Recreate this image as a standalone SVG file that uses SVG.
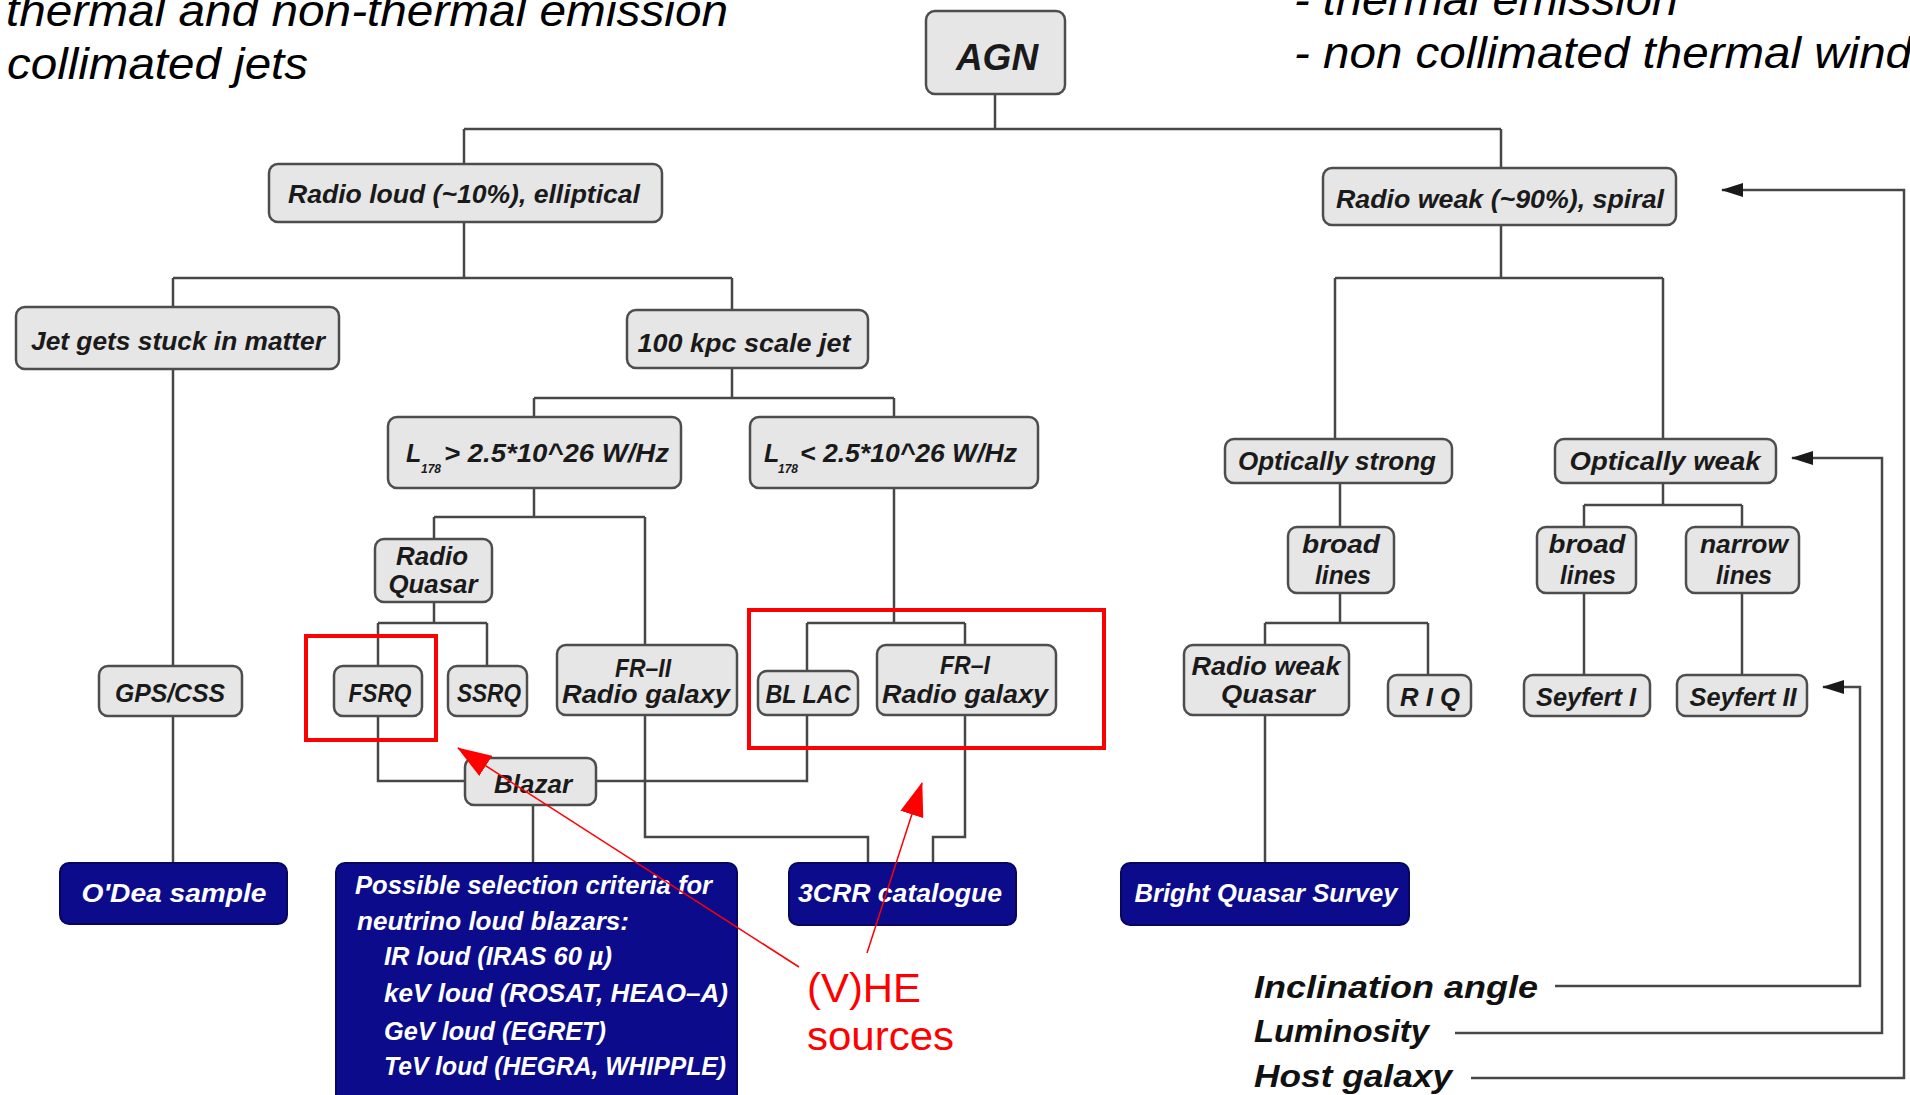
<svg xmlns="http://www.w3.org/2000/svg" width="1910" height="1095" viewBox="0 0 1910 1095">
<defs>
<style>
.n rect{fill:#e6e6e6;stroke:#4d4d4d;stroke-width:2.5}
.b rect{fill:#0b0b8c;stroke:#06065e;stroke-width:2}
.t{font-family:"Liberation Sans",Arial,sans-serif;font-style:italic;font-weight:bold;font-size:25px;fill:#1a1a1a;text-anchor:middle}
.ts{text-anchor:start}
.sub{font-size:12px}
.w{fill:#ffffff}
.h{font-family:"Liberation Sans",Arial,sans-serif;font-style:italic;font-size:44px;fill:#000}
.c{stroke:#474747;stroke-width:2.5;fill:none}
.r{stroke:#ff0000;fill:none}
.red{font-family:"Liberation Sans",Arial,sans-serif;font-size:40px;fill:#ff0000}
</style>
<marker id="ah" markerUnits="userSpaceOnUse" markerWidth="22" markerHeight="14" refX="21" refY="7" orient="auto">
<path d="M0,0 L22,7 L0,14 Z" fill="#1a1a1a"/>
</marker>
<marker id="rh" markerUnits="userSpaceOnUse" markerWidth="34" markerHeight="24" refX="33" refY="12" orient="auto">
<path d="M0,0 L34,12 L0,24 Z" fill="#ff0000"/>
</marker>
</defs>
<rect width="1910" height="1095" fill="#ffffff"/>

<g id="header-text">
<text class="h" x="6" y="26" textLength="722" lengthAdjust="spacingAndGlyphs">thermal and non-thermal emission</text>
<text class="h" x="7" y="79" textLength="301" lengthAdjust="spacingAndGlyphs">collimated jets</text>
<text class="h" x="1294" y="15" textLength="384" lengthAdjust="spacingAndGlyphs">- thermal emission</text>
<text class="h" x="1294" y="68" textLength="618" lengthAdjust="spacingAndGlyphs">- non collimated thermal wind</text>
</g>

<g id="connectors">
<path class="c" d="M995,94 V129 M464,129 H1501 M464,129 V164 M1501,129 V168"/>
<path class="c" d="M464,222 V278 M173,278 H732 M173,278 V307 M732,278 V310"/>
<path class="c" d="M173,369 V666 M173,716 V863"/>
<path class="c" d="M732,368 V398 M534,398 H894 M534,398 V417 M894,398 V417"/>
<path class="c" d="M534,488 V517 M434,517 H645 M434,517 V539 M645,517 V645"/>
<path class="c" d="M434,602 V623 M378,623 H487 M378,623 V666 M487,623 V666"/>
<path class="c" d="M378,716 V781 H807 V715"/>
<path class="c" d="M533,805 V863"/>
<path class="c" d="M645,715 V837 H868 V863"/>
<path class="c" d="M894,488 V623 M807,623 H965 M807,623 V671 M965,623 V645"/>
<path class="c" d="M965,715 V837 H933 V863"/>
<path class="c" d="M1501,225 V278 M1335,278 H1663 M1335,278 V439 M1663,278 V439"/>
<path class="c" d="M1340,483 V527 M1340,593 V623 M1265,623 H1428 M1265,623 V645 M1428,623 V675"/>
<path class="c" d="M1265,715 V863"/>
<path class="c" d="M1663,483 V505 M1584,505 H1742 M1584,505 V527 M1742,505 V527"/>
<path class="c" d="M1584,593 V675 M1742,593 V675"/>
<path class="c" marker-end="url(#ah)" d="M1555,986 H1860 V687 H1823"/>
<path class="c" marker-end="url(#ah)" d="M1455,1033 H1882 V458 H1792"/>
<path class="c" marker-end="url(#ah)" d="M1471,1078 H1904 V190 H1722"/>
</g>

<g id="agn" class="n"><rect x="926" y="11" width="139" height="83" rx="9"/><text class="t" x="997" y="70" style="font-size:37px">AGN</text></g>
<g id="radio-loud" class="n"><rect x="269" y="164" width="393" height="58" rx="9"/><text class="t" x="464" y="203" textLength="352" lengthAdjust="spacingAndGlyphs">Radio loud (~10%), elliptical</text></g>
<g id="radio-weak" class="n"><rect x="1323" y="168" width="353" height="57" rx="9"/><text class="t" x="1500" y="208" textLength="328" lengthAdjust="spacingAndGlyphs">Radio weak (~90%), spiral</text></g>
<g id="jet-stuck" class="n"><rect x="16" y="307" width="323" height="62" rx="9"/><text class="t" x="178" y="350" textLength="294" lengthAdjust="spacingAndGlyphs">Jet gets stuck in matter</text></g>
<g id="kpc-jet" class="n"><rect x="627" y="310" width="241" height="58" rx="9"/><text class="t" x="744" y="352" textLength="213" lengthAdjust="spacingAndGlyphs">100 kpc scale jet</text></g>
<g id="l178-high" class="n"><rect x="388" y="417" width="293" height="71" rx="9"/><text class="t ts" x="406" y="462">L</text><text class="t ts sub" x="421" y="473">178</text><text class="t ts" x="444" y="462" textLength="225" lengthAdjust="spacingAndGlyphs">&gt; 2.5*10^26 W/Hz</text></g>
<g id="l178-low" class="n"><rect x="750" y="417" width="288" height="71" rx="9"/><text class="t ts" x="764" y="462">L</text><text class="t ts sub" x="778" y="473">178</text><text class="t ts" x="800" y="462" textLength="217" lengthAdjust="spacingAndGlyphs">&lt; 2.5*10^26 W/Hz</text></g>
<g id="radio-quasar" class="n"><rect x="375" y="539" width="117" height="63" rx="9"/><text class="t" x="432" y="565" textLength="72" lengthAdjust="spacingAndGlyphs">Radio</text><text class="t" x="433" y="593" textLength="89" lengthAdjust="spacingAndGlyphs">Quasar</text></g>
<g id="fr2" class="n"><rect x="557" y="645" width="180" height="70" rx="9"/><text class="t" x="643" y="677" textLength="56" lengthAdjust="spacingAndGlyphs">FR–II</text><text class="t" x="646" y="703" textLength="168" lengthAdjust="spacingAndGlyphs">Radio galaxy</text></g>
<g id="gps-css" class="n"><rect x="99" y="666" width="143" height="50" rx="9"/><text class="t" x="170" y="702" textLength="110" lengthAdjust="spacingAndGlyphs">GPS/CSS</text></g>
<g id="fsrq" class="n"><rect x="334" y="666" width="88" height="50" rx="9"/><text class="t" x="380" y="702" textLength="63" lengthAdjust="spacingAndGlyphs">FSRQ</text></g>
<g id="ssrq" class="n"><rect x="448" y="666" width="79" height="50" rx="9"/><text class="t" x="489" y="702" textLength="64" lengthAdjust="spacingAndGlyphs">SSRQ</text></g>
<g id="bl-lac" class="n"><rect x="758" y="671" width="100" height="44" rx="9"/><text class="t" x="808" y="703" textLength="85" lengthAdjust="spacingAndGlyphs">BL LAC</text></g>
<g id="fr1" class="n"><rect x="877" y="645" width="179" height="70" rx="9"/><text class="t" x="965" y="674" textLength="50" lengthAdjust="spacingAndGlyphs">FR–I</text><text class="t" x="965" y="703" textLength="166" lengthAdjust="spacingAndGlyphs">Radio galaxy</text></g>
<g id="blazar" class="n"><rect x="465" y="758" width="131" height="47" rx="9"/><text class="t" x="533" y="793" textLength="78" lengthAdjust="spacingAndGlyphs">Blazar</text></g>
<g id="opt-strong" class="n"><rect x="1225" y="439" width="227" height="44" rx="9"/><text class="t" x="1337" y="470" textLength="198" lengthAdjust="spacingAndGlyphs">Optically strong</text></g>
<g id="opt-weak" class="n"><rect x="1555" y="439" width="221" height="44" rx="9"/><text class="t" x="1665" y="470" textLength="191" lengthAdjust="spacingAndGlyphs">Optically weak</text></g>
<g id="broad-lines-1" class="n"><rect x="1288" y="527" width="106" height="66" rx="9"/><text class="t" x="1341" y="553" textLength="78" lengthAdjust="spacingAndGlyphs">broad</text><text class="t" x="1343" y="584" textLength="56" lengthAdjust="spacingAndGlyphs">lines</text></g>
<g id="broad-lines-2" class="n"><rect x="1537" y="527" width="99" height="66" rx="9"/><text class="t" x="1587" y="553" textLength="77" lengthAdjust="spacingAndGlyphs">broad</text><text class="t" x="1588" y="584" textLength="56" lengthAdjust="spacingAndGlyphs">lines</text></g>
<g id="narrow-lines" class="n"><rect x="1686" y="527" width="113" height="66" rx="9"/><text class="t" x="1744" y="553" textLength="88" lengthAdjust="spacingAndGlyphs">narrow</text><text class="t" x="1744" y="584" textLength="56" lengthAdjust="spacingAndGlyphs">lines</text></g>
<g id="radio-weak-quasar" class="n"><rect x="1184" y="645" width="165" height="70" rx="9"/><text class="t" x="1266" y="675" textLength="149" lengthAdjust="spacingAndGlyphs">Radio weak</text><text class="t" x="1268" y="703" textLength="94" lengthAdjust="spacingAndGlyphs">Quasar</text></g>
<g id="riq" class="n"><rect x="1388" y="675" width="83" height="41" rx="9"/><text class="t" x="1430" y="706" textLength="60" lengthAdjust="spacingAndGlyphs">R I Q</text></g>
<g id="seyfert-1" class="n"><rect x="1524" y="675" width="126" height="41" rx="9"/><text class="t" x="1586" y="706" textLength="100" lengthAdjust="spacingAndGlyphs">Seyfert I</text></g>
<g id="seyfert-2" class="n"><rect x="1677" y="675" width="130" height="41" rx="9"/><text class="t" x="1743" y="706" textLength="107" lengthAdjust="spacingAndGlyphs">Seyfert II</text></g>

<g id="odea" class="b"><rect x="60" y="863" width="227" height="61" rx="9"/><text class="t w" x="174" y="902" textLength="185" lengthAdjust="spacingAndGlyphs">O'Dea sample</text></g>
<g id="selection" class="b"><rect x="336" y="863" width="401" height="260" rx="9"/>
<text class="t w ts" x="355" y="894" textLength="357" lengthAdjust="spacingAndGlyphs">Possible selection criteria for</text>
<text class="t w ts" x="357" y="930" textLength="272" lengthAdjust="spacingAndGlyphs">neutrino loud blazars:</text>
<text class="t w ts" x="384" y="965" textLength="228" lengthAdjust="spacingAndGlyphs">IR loud (IRAS 60 µ)</text>
<text class="t w ts" x="384" y="1002" textLength="344" lengthAdjust="spacingAndGlyphs">keV loud (ROSAT, HEAO–A)</text>
<text class="t w ts" x="384" y="1040" textLength="222" lengthAdjust="spacingAndGlyphs">GeV loud (EGRET)</text>
<text class="t w ts" x="384" y="1075" textLength="342" lengthAdjust="spacingAndGlyphs">TeV loud (HEGRA, WHIPPLE)</text>
</g>
<g id="3crr" class="b"><rect x="789" y="863" width="227" height="62" rx="9"/><text class="t w" x="900" y="902" textLength="204" lengthAdjust="spacingAndGlyphs">3CRR catalogue</text></g>
<g id="bqs" class="b"><rect x="1121" y="863" width="288" height="62" rx="9"/><text class="t w" x="1266" y="902" textLength="263" lengthAdjust="spacingAndGlyphs">Bright Quasar Survey</text></g>

<g id="parameters">
<text class="t ts" x="1254" y="998" style="font-size:31px;fill:#111" textLength="284" lengthAdjust="spacingAndGlyphs">Inclination angle</text>
<text class="t ts" x="1254" y="1042" style="font-size:31px;fill:#111" textLength="175" lengthAdjust="spacingAndGlyphs">Luminosity</text>
<text class="t ts" x="1254" y="1087" style="font-size:31px;fill:#111" textLength="198" lengthAdjust="spacingAndGlyphs">Host galaxy</text>
</g>

<g id="vhe-annotation">
<rect class="r" x="306" y="636" width="130" height="104" stroke-width="4"/>
<rect class="r" x="749" y="610" width="355" height="138" stroke-width="4"/>
<line class="r" x1="799" y1="967" x2="458" y2="748" stroke-width="1.5" marker-end="url(#rh)"/>
<line class="r" x1="867" y1="953" x2="922" y2="783" stroke-width="1.5" marker-end="url(#rh)"/>
<text class="red" x="807" y="1002" textLength="114" lengthAdjust="spacingAndGlyphs">(V)HE</text>
<text class="red" x="807" y="1050" textLength="147" lengthAdjust="spacingAndGlyphs">sources</text>
</g>
</svg>
